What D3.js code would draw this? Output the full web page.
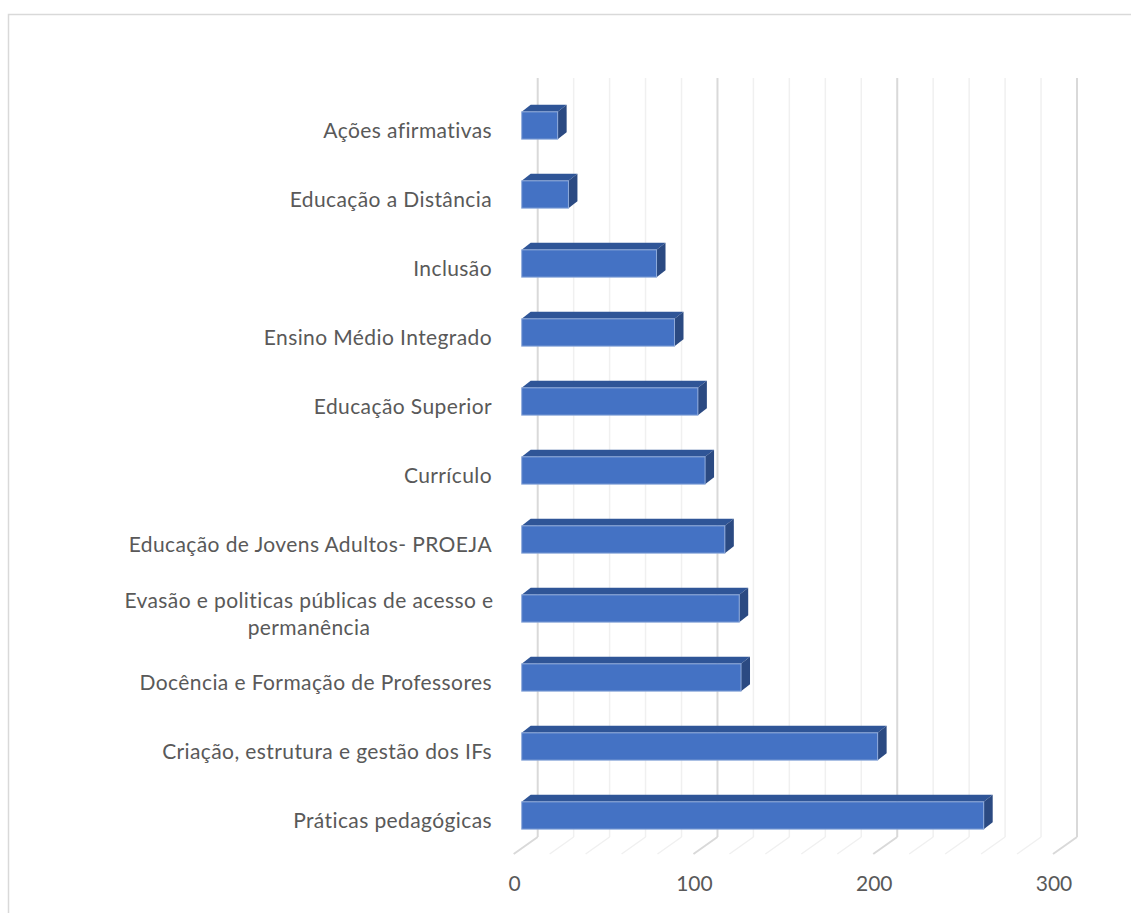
<!DOCTYPE html>
<html>
<head>
<meta charset="utf-8">
<script src="https://cdn.jsdelivr.net/npm/d3@7"></script>
<style>
  body { margin: 0; background: #fff; }
  text { font-family: Lato, "Open Sans", sans-serif; fill: #595959; }
</style>
</head>
<body>
<div id="app"></div>
<script>
// categories top to bottom, as in the picture
const categories = [
  "Ações afirmativas",
  "Educação a Distância",
  "Inclusão",
  "Ensino Médio Integrado",
  "Educação Superior",
  "Currículo",
  "Educação de Jovens Adultos- PROEJA",
  "Evasão e politicas públicas de acesso e permanência",
  "Docência e Formação de Professores",
  "Criação, estrutura e gestão dos IFs",
  "Práticas pedagógicas"
];
const values = [20, 26, 75, 85, 98, 102, 113, 121, 122, 198, 257];
const tickValues = [0, 100, 200, 300];
const gridValues = d3.range(0, 301, 20);

// wrapped label lines (the long one wraps in two)
const labelLines = {
  "Evasão e politicas públicas de acesso e permanência": ["Evasão e politicas públicas de acesso e", "permanência"]
};

function drawStuff() {
  const dims = { width: 1131, height: 913 };

  // 3d-ish geometry
  const wallTop = 78, wallBottom = 837;
  const floorDx = -24, floorDy = 17;      // back edge -> front edge of floor
  const barFrontDx = -16;                 // bar front face sits 2/3 of the way forward
  const barDepthDx = 9, barDepthDy = -7;  // front -> back of a bar

  const svg = d3.select("#app").append("svg")
    .attr("width", dims.width)
    .attr("height", dims.height);

  // chart border
  svg.append("rect")
    .attr("x", 8.5).attr("y", 14.5)
    .attr("width", 1140).attr("height", 920)
    .attr("fill", "none")
    .attr("stroke", "#d9d9d9")
    .attr("stroke-width", 1.5);

  // back wall scale
  const xScale = d3.scaleLinear().domain([0, 300]).range([537.7, 1077]);
  const yScale = d3.scalePoint().domain(categories).range([125.5, 815.5]);
  const barH = 27.3;

  const grid = svg.append("g");
  const isMajor = (d) => d % 100 === 0;

  // wall lines
  grid.selectAll("line.wall")
    .data(gridValues)
    .join("line")
    .attr("class", "wall")
    .attr("x1", (d) => xScale(d)).attr("x2", (d) => xScale(d))
    .attr("y1", wallTop).attr("y2", wallBottom)
    .attr("stroke", (d) => isMajor(d) ? "#d9d9d9" : "#f0f0f0")
    .attr("stroke-width", (d) => isMajor(d) ? 2 : 1.5);

  // floor lines
  grid.selectAll("line.floor")
    .data(gridValues)
    .join("line")
    .attr("class", "floor")
    .attr("x1", (d) => xScale(d)).attr("y1", wallBottom)
    .attr("x2", (d) => xScale(d) + floorDx).attr("y2", wallBottom + floorDy)
    .attr("stroke", (d) => isMajor(d) ? "#d9d9d9" : "#f0f0f0")
    .attr("stroke-width", (d) => isMajor(d) ? 2 : 1.5);

  // bars
  const x0 = xScale(0) + barFrontDx;
  const barX = (v) => xScale(v) + barFrontDx;
  const bars = svg.append("g")
    .selectAll("g")
    .data(categories.map((c, i) => ({ cat: c, val: values[i] })))
    .join("g");

  // top face
  bars.append("path")
    .attr("fill", "#2f5597")
    .attr("d", (d) => {
      const y = yScale(d.cat) - barH / 2;
      const x1 = barX(d.val);
      return `M${x0},${y}L${x0 + barDepthDx},${y + barDepthDy}L${x1 + barDepthDx},${y + barDepthDy}L${x1},${y}Z`;
    });

  // side face
  bars.append("path")
    .attr("fill", "#2b4a82")
    .attr("d", (d) => {
      const y = yScale(d.cat) - barH / 2;
      const x1 = barX(d.val);
      return `M${x1},${y}L${x1 + barDepthDx},${y + barDepthDy}L${x1 + barDepthDx},${y + barH + barDepthDy}L${x1},${y + barH}Z`;
    });

  // front face
  bars.append("rect")
    .attr("x", x0)
    .attr("y", (d) => yScale(d.cat) - barH / 2)
    .attr("width", (d) => barX(d.val) - x0)
    .attr("height", barH)
    .attr("fill", "#4472c4")
    .attr("stroke", "#8eaadb")
    .attr("stroke-width", 1);

  // category labels
  const labels = svg.append("g")
    .selectAll("text")
    .data(categories)
    .join("text")
    .attr("font-size", 21)
    .attr("letter-spacing", 0.4)
    .attr("dominant-baseline", "middle");

  labels.each(function (d) {
    const t = d3.select(this);
    const lines = labelLines[d];
    if (!lines) {
      t.attr("x", 492).attr("y", yScale(d) + 7).attr("text-anchor", "end").text(d);
    } else {
      t.attr("text-anchor", "middle");
      lines.forEach((ln, i) => {
        t.append("tspan")
          .attr("x", 309)
          .attr("y", yScale(d) + 7 - 13 + i * 27)
          .text(ln);
      });
    }
  });

  // value axis labels on the front edge of the floor
  svg.append("g")
    .selectAll("text")
    .data(tickValues)
    .join("text")
    .attr("x", (d) => xScale(d) + floorDx + 1)
    .attr("y", 886)
    .attr("text-anchor", "middle")
    .attr("dominant-baseline", "middle")
    .attr("font-size", 21)
    .text((d) => d);
}

drawStuff();
</script>
</body>
</html>
